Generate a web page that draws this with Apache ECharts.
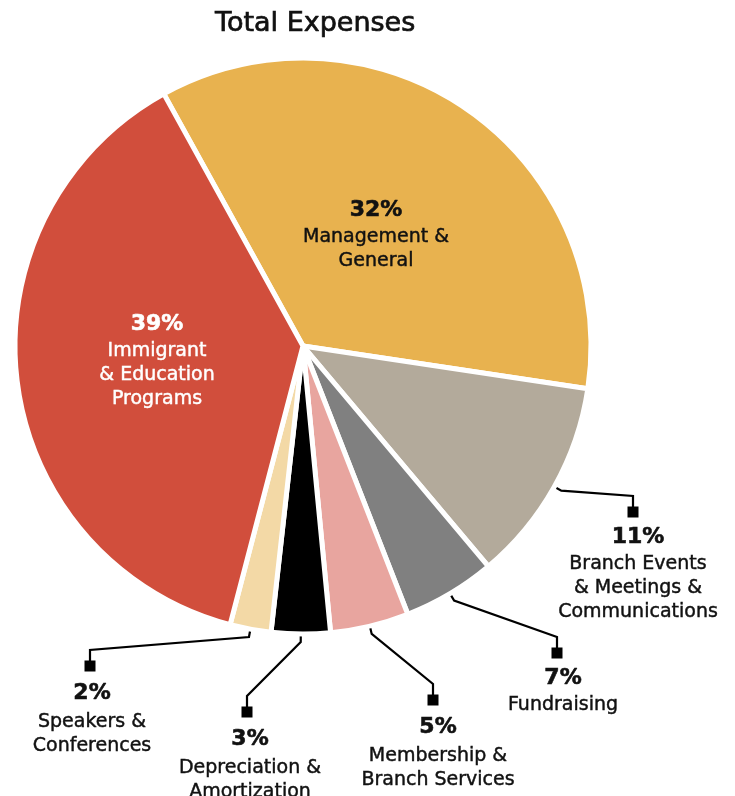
<!DOCTYPE html>
<html><head><meta charset="utf-8">
<script src="https://cdn.jsdelivr.net/npm/echarts@6/dist/echarts.min.js"></script>
<style>html,body{margin:0;padding:0;background:#fff}#c{width:735px;height:796px}</style>
</head><body><div id="c"></div>
<script>
// ---- data ----
const categories = [
  'Management &\nGeneral',
  'Branch Events\n& Meetings &\nCommunications',
  'Fundraising',
  'Membership &\nBranch Services',
  'Depreciation &\nAmortization',
  'Speakers &\nConferences',
  'Immigrant\n& Education\nPrograms'
];
// slice shares as drawn (measured from slice angles)
const sliceShares = [35.4, 11.5, 5.2, 4.4, 3.3, 2.3, 37.9];
// percentage text printed on the chart
const percentLabels = ['32%', '11%', '7%', '5%', '3%', '2%', '39%'];
const sliceColors = ['#E8B24F', '#B3AA9B', '#808080', '#E8A59F', '#000000', '#F3D9A6', '#D14E3C'];

// ---- layout / style constants ----
const FONT = 'DejaVu Sans';
const PIE_CENTER = [303, 346];
const PIE_RADIUS = 288;
const START_ANGLE = 118.9;
// label spots: inside labels are centered at (lx,ly); outside ones have a marker square at (sx,sy)
const labelSpots = [
  { inside: true, lx: 376, ly: 234, color: '#111', pctLH: 30 },
  { sx: 633, sy: 512, lx: 638, pctLH: 30 },
  { sx: 557, sy: 653, lx: 563, pctLH: 30 },
  { sx: 433, sy: 700, lx: 438, pctLH: 34 },
  { sx: 247, sy: 712, lx: 250, pctLH: 34 },
  { sx: 90,  sy: 666, lx: 92,  pctLH: 34 },
  { inside: true, lx: 157, ly: 360, color: '#fff', pctLH: 30 }
];

const chart = echarts.init(document.getElementById('c'), null, { renderer: 'canvas' });

const seriesData = categories.map((name, i) => {
  const col = labelSpots[i].color || '#111';
  return {
    name: name,
    value: sliceShares[i],
    itemStyle: { color: sliceColors[i] },
    label: {
      color: col,
      formatter: () => '{pct|' + percentLabels[i] + '}\n' +
        name.split('\n').map(s => '{name|' + s + '}').join('\n'),
      rich: {
        pct: { fontFamily: FONT, fontWeight: 'bold', fontSize: 22, lineHeight: labelSpots[i].pctLH,
               color: col, align: 'center', textBorderColor: col, textBorderWidth: 0.6 },
        name: { fontFamily: FONT, fontSize: 19, lineHeight: 24,
                color: col, align: 'center', textBorderColor: col, textBorderWidth: 0.45 }
      }
    }
  };
});

chart.setOption({
  animation: false,
  backgroundColor: '#fff',
  title: {
    text: 'Total Expenses',
    left: 215, top: 10, padding: 0,
    textStyle: { fontFamily: FONT, fontSize: 27, fontWeight: 'normal', color: '#111',
                 textBorderColor: '#111', textBorderWidth: 0.7 }
  },
  series: [{
    type: 'pie',
    silent: true,
    center: PIE_CENTER,
    radius: [0, PIE_RADIUS],
    startAngle: START_ANGLE,
    clockwise: true,
    avoidLabelOverlap: false,
    itemStyle: { borderColor: '#fff', borderWidth: 5 },
    emphasis: { disabled: true },
    label: { show: true, position: 'inside', align: 'center' },
    labelLine: { show: false },
    labelLayout: function (params) {
      const s = labelSpots[params.dataIndex];
      if (s.inside) return { x: s.lx, y: s.ly, align: 'center', verticalAlign: 'middle' };
      return { x: s.lx, y: s.sy + 10, align: 'center', verticalAlign: 'top' };
    },
    data: seriesData
  }]
});

// leader lines with square markers, anchored on each slice via the library's layout
const data = chart.getModel().getSeriesByIndex(0).getData();
const graphics = [];
labelSpots.forEach((s, i) => {
  if (s.inside) return;
  const L = data.getItemLayout(i);
  const mid = (L.startAngle + L.endAngle) / 2;
  const a = [L.cx + (L.r - 7) * Math.cos(mid), L.cy + (L.r - 7) * Math.sin(mid)];
  const e = [L.cx + (L.r + 8) * Math.cos(mid), L.cy + (L.r + 8) * Math.sin(mid)];
  graphics.push({
    type: 'polyline', silent: true,
    shape: { points: [a, e, [s.sx, s.sy - 16], [s.sx, s.sy]] },
    style: { stroke: '#000', lineWidth: 2.2, fill: null }
  });
  graphics.push({
    type: 'rect', silent: true,
    shape: { x: s.sx - 5.5, y: s.sy - 5.5, width: 11, height: 11 },
    style: { fill: '#000' }
  });
});
chart.setOption({ graphic: graphics });
</script>
</body></html>
